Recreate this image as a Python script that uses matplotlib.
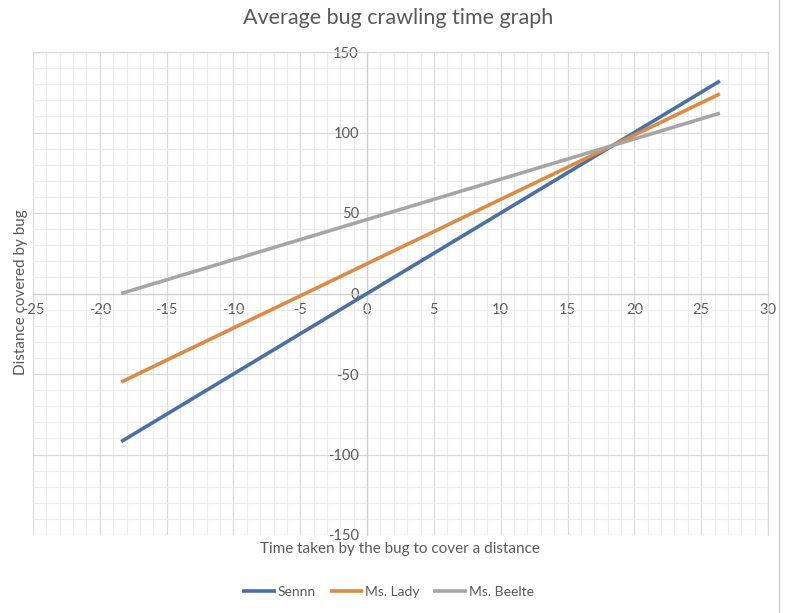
import matplotlib.pyplot as plt
from matplotlib.lines import Line2D
from matplotlib.ticker import MultipleLocator

# data (line end points)
time_x = [-18.4, 26.4]
sennn = [-92, 132]
ms_lady = [-55, 124]
ms_beelte = [0, 112]

series = [("Sennn", sennn, "#4a70a6"),
          ("Ms. Lady", ms_lady, "#dc8a46"),
          ("Ms. Beelte", ms_beelte, "#a6a6a6")]

plt.rcParams['font.family'] = ['Lato', 'DejaVu Sans']
plt.rcParams['axes.unicode_minus'] = False
text_col = "#595959"

fig = plt.figure(figsize=(7.97, 6.13), dpi=100)
ax = fig.add_axes([33 / 797, 1 - 535 / 613, 735 / 797, 483 / 613])

for name, y, col in series:
    ax.plot(time_x, y, color=col, lw=2.6, label=name, solid_capstyle='butt', zorder=3)

ax.set_xlim(-25, 30)
ax.set_ylim(-150, 150)
ax.xaxis.set_major_locator(MultipleLocator(5))
ax.xaxis.set_minor_locator(MultipleLocator(1))
ax.yaxis.set_major_locator(MultipleLocator(50))
ax.yaxis.set_minor_locator(MultipleLocator(10))
ax.grid(which='major', color='#d9d9d9', lw=0.9)
ax.grid(which='minor', color='#ececec', lw=0.8)
ax.set_axisbelow(True)

ax.spines['left'].set_position(('data', 0))
ax.spines['bottom'].set_position(('data', 0))
for s in ['left', 'bottom']:
    ax.spines[s].set_color('#d0d0d0')
    ax.spines[s].set_linewidth(0.9)
for s in ['top', 'right']:
    ax.spines[s].set_color('#d9d9d9')
    ax.spines[s].set_linewidth(0.9)

ax.tick_params(which='both', length=0, labelsize=10.5, labelcolor=text_col)
ax.tick_params(axis='x', pad=7)
ax.tick_params(axis='y', pad=6)

fig.text(0.5, 1 - 18 / 613, "Average bug crawling time graph", ha='center', va='center',
         fontsize=15.5, color=text_col)
fig.text(400 / 797, 1 - 549 / 613, "Time taken by the bug to cover a distance", ha='center',
         va='center', fontsize=11, color=text_col)
fig.text(21 / 797, 1 - 292 / 613, "Distance covered by bug", ha='center', va='center',
         rotation=90, fontsize=11, color=text_col)

fig.legend(loc='center', bbox_to_anchor=(388 / 797, 1 - 592 / 613), ncol=3, frameon=False,
           fontsize=10, labelcolor=text_col, handlelength=2.4, handletextpad=0.15,
           columnspacing=1.0)

fig.add_artist(Line2D([779 / 797, 779 / 797], [0, 1], color='#c8c8c8', lw=0.8))

fig.savefig("out.png", dpi=100)
